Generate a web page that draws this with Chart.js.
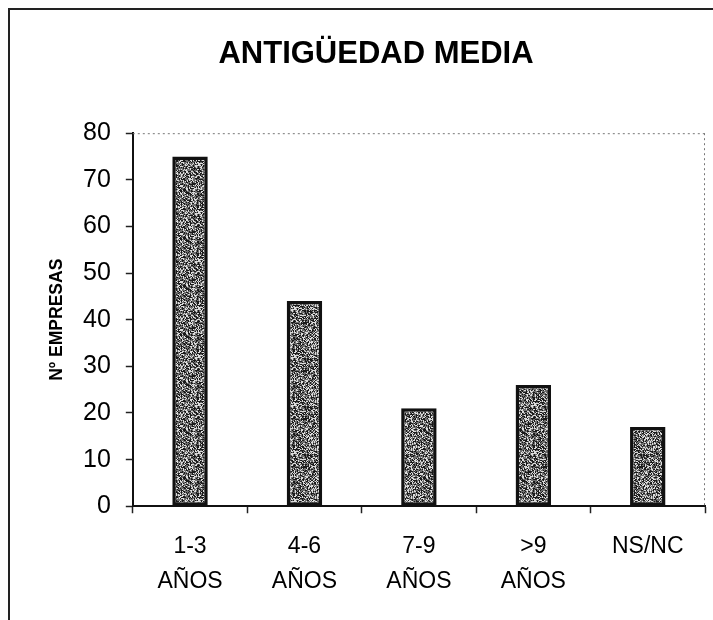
<!DOCTYPE html>
<html>
<head>
<meta charset="utf-8">
<script src="https://cdn.jsdelivr.net/npm/chart.js@4.4.1/dist/chart.umd.min.js"></script>
<style>
    html, body { margin: 0; padding: 0; background: #fff; overflow: hidden; }
    #frame {
        position: absolute;
        left: 8px;
        top: 8px;
        width: 712px;
        height: 640px;
        border-left: 2px solid #222;
        border-top: 2px solid #222;
    }
</style>
</head>
<body>
<div id="frame">
    <canvas id="chart" width="712" height="640"></canvas>
</div>
<script>
// chart data
const categories = [["1-3", "AÑOS"], ["4-6", "AÑOS"], ["7-9", "AÑOS"], [">9", "AÑOS"], "NS/NC"];
const empresas = [75, 44, 21, 26, 17];
const yTicks = [0, 10, 20, 30, 40, 50, 60, 70, 80];

// grey speckle texture for the bars (fixed hash, no randomness)
function makeSpeckle() {
    let c = document.createElement("canvas");
    c.width = 48;
    c.height = 48;
    let g = c.getContext("2d");
    g.fillStyle = "#6e6e6e";
    g.fillRect(0, 0, 48, 48);
    for (let y = 0; y < 48; y++) {
        for (let x = 0; x < 48; x++) {
            let h = Math.sin(x * 12.9898 + y * 78.233) * 43758.5453;
            h = h - Math.floor(h);
            if (h < 0.35) {
                g.fillStyle = "#1a1a1a";
                g.fillRect(x, y, 1, 1);
            } else if (h > 0.74) {
                g.fillStyle = "#dcdcdc";
                g.fillRect(x, y, 1, 1);
            }
        }
    }
    return g.createPattern(c, "repeat");
}

// dotted top and right edges of the plot area
const plotEdges = {
    id: "plotEdges",
    afterDraw(chart) {
        let a = chart.chartArea;
        let ctx = chart.ctx;
        ctx.save();
        ctx.strokeStyle = "#777";
        ctx.lineWidth = 1;
        ctx.setLineDash([2, 3]);
        ctx.beginPath();
        ctx.moveTo(a.left, a.top + 0.5);
        ctx.lineTo(a.right, a.top + 0.5);
        ctx.moveTo(a.right - 0.5, a.top);
        ctx.lineTo(a.right - 0.5, a.bottom);
        ctx.stroke();
        ctx.restore();
    }
};

let ctx = document.getElementById("chart").getContext("2d");

let chart = new Chart(ctx, {
    type: "bar",
    data: {
        labels: categories,
        datasets: [{
            label: "Nº EMPRESAS",
            data: empresas,
            backgroundColor: makeSpeckle(),
            borderColor: "#111",
            borderWidth: 3.5,
            borderSkipped: false,
            barPercentage: 0.31,
            categoryPercentage: 1
        }]
    },
    options: {
        responsive: false,
        animation: false,
        devicePixelRatio: 1,
        layout: {
            padding: { left: 37, right: 17, top: 0, bottom: 35 }
        },
        plugins: {
            legend: { display: false },
            tooltip: { enabled: false },
            title: {
                display: true,
                text: "ANTIGÜEDAD MEDIA",
                color: "#000",
                font: { family: "Liberation Sans", size: 31, weight: "bold" },
                padding: { top: 26, bottom: 60 }
            }
        },
        scales: {
            x: {
                grid: {
                    display: true,
                    drawOnChartArea: false,
                    tickLength: 7,
                    tickColor: "#222",
                    tickWidth: 1.5
                },
                border: { color: "#111", width: 2 },
                ticks: {
                    color: "#000",
                    font: { family: "Liberation Sans", size: 23, lineHeight: 1.56 },
                    padding: 15,
                    maxRotation: 0,
                    autoSkip: false
                }
            },
            y: {
                min: 0,
                max: 80,
                afterBuildTicks(axis) {
                    axis.ticks = yTicks.map(v => ({ value: v }));
                },
                grid: {
                    display: true,
                    drawOnChartArea: false,
                    tickLength: 7,
                    tickColor: "#222",
                    tickWidth: 1.5
                },
                border: { color: "#111", width: 2 },
                ticks: {
                    color: "#000",
                    font: { family: "Liberation Sans", size: 25 },
                    padding: 15
                },
                title: {
                    display: true,
                    text: "Nº EMPRESAS",
                    color: "#000",
                    font: { family: "Liberation Sans", size: 17.5, weight: "bold" },
                    padding: { top: 0, bottom: 0 }
                }
            }
        }
    },
    plugins: [plotEdges]
});
</script>
</body>
</html>
